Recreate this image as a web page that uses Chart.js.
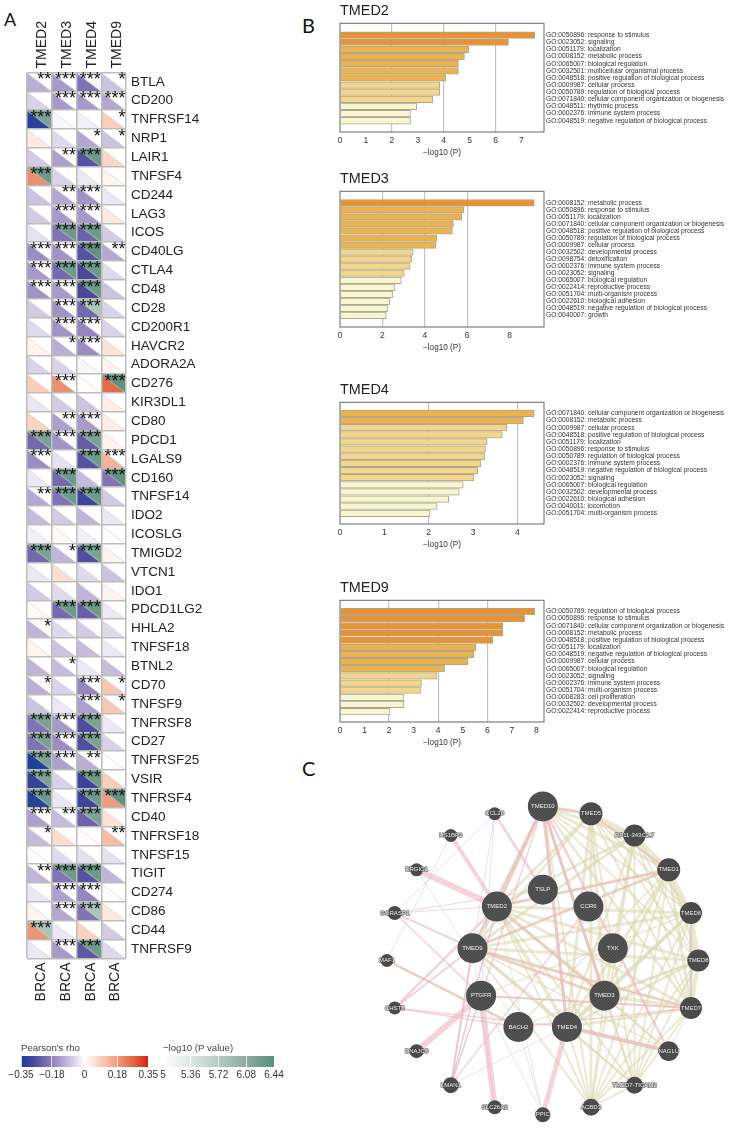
<!DOCTYPE html>
<html>
<head>
<meta charset="utf-8">
<title>TMED immune checkpoint, GO enrichment and network</title>
<script src="https://cdn.jsdelivr.net/npm/chart.js@4"></script>
<style>
  body { margin: 0; background: #fff; width: 734px; height: 1139px; position: relative; overflow: hidden; }
  canvas { position: absolute; }
  .letter { position: absolute; font-family: Lato, sans-serif; font-size: 20px; color: #111; line-height: 1; }
</style>
</head>
<body>
<div class="letter" style="left:4px;top:10px;font-size:18px">A</div>
<div class="letter" style="left:302px;top:15px">B</div>
<div class="letter" style="left:302px;top:758px">C</div>
<canvas id="heat" width="300" height="1010" style="left:0;top:0"></canvas>
<canvas id="rhoBar" width="160" height="45" style="left:0;top:1040px"></canvas>
<canvas id="pBar" width="140" height="45" style="left:155px;top:1040px"></canvas>
<canvas id="go2" width="404" height="156" style="left:330px;top:2px"></canvas>
<canvas id="go3" width="404" height="183" style="left:330px;top:170px"></canvas>
<canvas id="go4" width="404" height="169" style="left:330px;top:381px"></canvas>
<canvas id="go9" width="404" height="169" style="left:330px;top:579px"></canvas>
<canvas id="net" width="404" height="369" style="left:330px;top:770px"></canvas>
<script>
const FONT = '"Liberation Sans", Arial, sans-serif';

// Panel A
const tmedCols = ['TMED2', 'TMED3', 'TMED4', 'TMED9'];
const cancerCols = ['BRCA', 'BRCA', 'BRCA', 'BRCA'];
const genes = ['BTLA', 'CD200', 'TNFRSF14', 'NRP1', 'LAIR1', 'TNFSF4', 'CD244', 'LAG3', 'ICOS', 'CD40LG', 'CTLA4', 'CD48',
  'CD28', 'CD200R1', 'HAVCR2', 'ADORA2A', 'CD276', 'KIR3DL1', 'CD80', 'PDCD1', 'LGALS9', 'CD160', 'TNFSF14', 'IDO2',
  'ICOSLG', 'TMIGD2', 'VTCN1', 'IDO1', 'PDCD1LG2', 'HHLA2', 'TNFSF18', 'BTNL2', 'CD70', 'TNFSF9', 'TNFRSF8', 'CD27',
  'TNFRSF25', 'VSIR', 'TNFRSF4', 'CD40', 'TNFRSF18', 'TNFSF15', 'TIGIT', 'CD274', 'CD86', 'CD44', 'TNFRSF9'];

const rhoTMED2 = [-.11, -.06, -.33, .04, -.07, .2, -.08, -.07, -.04, -.16, -.14, -.15, -.07, -.05, .02, -.06, .09, -.03, .08, -.22, -.16, -.03, -.12, -.09,
  -.02, -.22, -.03, -.07, .01, -.1, .02, -.1, -.11, -.08, -.2, -.2, -.34, -.31, -.33, -.13, -.09, -.005, -.1, -.03, .02, .19, -.03];
const rhoTMED3 = [-.14, -.14, -.01, -.05, -.13, -.06, -.12, -.14, -.2, -.15, -.22, -.14, -.15, -.15, -.11, -.06, .2, -.07, -.13, -.15, -.04, -.22, -.2, -.07,
  .01, -.1, .06, -.05, -.22, -.05, -.08, -.09, -.06, -.03, -.14, -.16, -.13, -.06, -.03, -.09, .06, -.05, -.2, -.13, -.12, -.03, -.14];
const rhoTMED4 = [-.2, -.14, -.02, -.12, -.26, -.03, -.15, -.14, -.23, -.26, -.28, -.28, -.22, -.17, -.16, -.01, .005, -.08, -.14, -.24, -.26, -.09, -.3, -.1,
  -.02, -.27, -.05, -.1, -.24, -.07, -.09, -.03, -.17, -.13, -.27, -.27, -.11, -.3, -.3, -.23, .005, -.04, -.26, -.17, -.2, .08, -.25];
const rhoTMED9 = [-.08, -.12, .09, -.08, .07, .02, -.03, .04, -.07, -.12, -.05, -.08, -.06, -.06, .05, .02, .26, .03, .03, .02, .14, -.2, -.07, -.03,
  -.005, .02, -.08, .02, -.03, -.05, -.03, -.09, .1, .1, -.03, -.06, -.005, .09, .18, .05, .12, -.04, -.1, -.005, .04, -.07, -.05];

// -log10 P, 0 where the cell stays blank
const logpTMED2 = [0, 0, 6.2, 0, 0, 6.3, 0, 0, 0, 0, 0, 0, 0, 0, 0, 0, 0, 0, 0, 6.2, 0, 0, 0, 0,
  0, 6.2, 0, 0, 0, 0, 0, 0, 0, 0, 6.2, 6.2, 6.2, 6.2, 6.3, 0, 0, 0, 0, 0, 0, 5.8, 0];
const logpTMED3 = [0, 0, 0, 0, 0, 0, 0, 0, 6.3, 0, 6.3, 0, 0, 0, 0, 0, 0, 0, 0, 0, 0, 6.3, 6.3, 0,
  0, 0, 0, 0, 6.3, 0, 0, 0, 0, 0, 0, 0, 0, 0, 0, 0, 0, 0, 6.3, 0, 0, 0, 0];
const logpTMED4 = [5.1, 0, 0, 0, 6.3, 0, 0, 0, 6.3, 6.4, 6.3, 6.3, 5.8, 0, 0, 0, 0, 0, 0, 6.2, 6.3, 0, 6.3, 0,
  0, 6.2, 0, 0, 6.3, 0, 0, 0, 0, 0, 6.2, 6.2, 0, 6.3, 6.3, 6.2, 0, 0, 6.3, 0, 5.8, 0, 6.3];
const logpTMED9 = [0, 0, 0, 0, 0, 0, 0, 0, 0, 0, 0, 0, 0, 0, 0, 0, 6.4, 0, 0, 0, 0, 6.4, 0, 0,
  0, 0, 0, 0, 0, 0, 0, 0, 0, 0, 0, 0, 0, 0, 6.4, 0, 0, 0, 0, 0, 0, 0, 0];

const starsTMED2 = [2, 0, 3, 0, 0, 3, 0, 0, 0, 3, 3, 3, 0, 0, 0, 0, 0, 0, 0, 3, 3, 0, 2, 0,
  0, 3, 0, 0, 0, 1, 0, 0, 1, 0, 3, 3, 3, 3, 3, 3, 1, 0, 2, 0, 0, 3, 0];
const starsTMED3 = [3, 3, 0, 0, 2, 0, 2, 3, 3, 3, 3, 3, 3, 3, 1, 0, 3, 0, 2, 3, 0, 3, 3, 0,
  0, 1, 0, 0, 3, 0, 0, 1, 0, 0, 3, 3, 3, 0, 0, 2, 0, 0, 3, 3, 3, 0, 3];
const starsTMED4 = [3, 3, 0, 1, 3, 0, 3, 3, 3, 3, 3, 3, 3, 3, 3, 0, 0, 0, 3, 3, 3, 0, 3, 0,
  0, 3, 0, 0, 3, 0, 0, 0, 3, 3, 3, 3, 2, 3, 3, 3, 0, 0, 3, 3, 3, 0, 3];
const starsTMED9 = [1, 3, 1, 1, 0, 0, 0, 0, 0, 2, 0, 0, 0, 0, 0, 0, 3, 0, 0, 0, 3, 3, 0, 0,
  0, 0, 0, 0, 0, 0, 0, 0, 1, 1, 0, 0, 0, 0, 3, 0, 2, 0, 0, 0, 0, 0, 0];

const rhoByCol = [rhoTMED2, rhoTMED3, rhoTMED4, rhoTMED9];
const logpByCol = [logpTMED2, logpTMED3, logpTMED4, logpTMED9];
const starsByCol = [starsTMED2, starsTMED3, starsTMED4, starsTMED9];

// colour bars
const rhoTicks = [-0.35, -0.18, 0, 0.18, 0.35];
const logpTicks = [5, 5.36, 5.72, 6.08, 6.44];

// Panel B
const go2Terms = ['GO:0050896: response to stimulus', 'GO:0023052: signaling', 'GO:0051179: localization', 'GO:0008152: metabolic process',
  'GO:0065007: biological regulation', 'GO:0032501: multicellular organismal process', 'GO:0048518: positive regulation of biological process',
  'GO:0009987: cellular process', 'GO:0050789: regulation of biological process', 'GO:0071840: cellular component organization or biogenesis',
  'GO:0048511: rhythmic process', 'GO:0002376: immune system process', 'GO:0048519: negative regulation of biological process'];
const go2Values = [7.52, 6.5, 4.97, 4.8, 4.57, 4.57, 4.08, 3.85, 3.85, 3.58, 2.96, 2.72, 2.72];

const go3Terms = ['GO:0008152: metabolic process', 'GO:0050896: response to stimulus', 'GO:0051179: localization',
  'GO:0071840: cellular component organization or biogenesis', 'GO:0048518: positive regulation of biological process',
  'GO:0050789: regulation of biological process', 'GO:0009987: cellular process', 'GO:0032502: developmental process', 'GO:0098754: detoxification',
  'GO:0002376: immune system process', 'GO:0023052: signaling', 'GO:0065007: biological regulation', 'GO:0022414: reproductive process',
  'GO:0051704: multi-organism process', 'GO:0022610: biological adhesion', 'GO:0048519: negative regulation of biological process', 'GO:0040007: growth'];
const go3Values = [9.16, 5.85, 5.74, 5.35, 5.3, 4.56, 4.53, 3.45, 3.39, 3.31, 3.03, 2.89, 2.6, 2.48, 2.34, 2.24, 2.18];

const go4Terms = ['GO:0071840: cellular component organization or biogenesis', 'GO:0008152: metabolic process', 'GO:0009987: cellular process',
  'GO:0048518: positive regulation of biological process', 'GO:0051179: localization', 'GO:0050896: response to stimulus',
  'GO:0050789: regulation of biological process', 'GO:0002376: immune system process', 'GO:0048519: negative regulation of biological process',
  'GO:0023052: signaling', 'GO:0065007: biological regulation', 'GO:0032502: developmental process', 'GO:0022610: biological adhesion',
  'GO:0040011: locomotion', 'GO:0051704: multi-organism process'];
const go4Values = [4.38, 4.135, 3.76, 3.66, 3.32, 3.28, 3.26, 3.18, 3.11, 3.02, 2.78, 2.69, 2.45, 2.19, 2.03];

const go9Terms = ['GO:0050789: regulation of biological process', 'GO:0050896: response to stimulus', 'GO:0071840: cellular component organization or biogenesis',
  'GO:0008152: metabolic process', 'GO:0048518: positive regulation of biological process', 'GO:0051179: localization',
  'GO:0048519: negative regulation of biological process', 'GO:0009987: cellular process', 'GO:0065007: biological regulation', 'GO:0023052: signaling',
  'GO:0002376: immune system process', 'GO:0051704: multi-organism process', 'GO:0008283: cell proliferation', 'GO:0032502: developmental process',
  'GO:0022414: reproductive process'];
const go9Values = [7.93, 7.52, 6.63, 6.63, 6.23, 5.54, 5.46, 5.21, 4.26, 3.95, 3.32, 3.28, 2.61, 2.59, 2.04];

// Panel C
const nodeNames = ['TMED10', 'TMED5', 'RP11-343C2.7', 'TMED1', 'TMED6', 'TMED8', 'TMED7', 'NAGLU', 'TMED7-TICAM2', 'ACBD3', 'PPIC', 'SLC26A2', 'LMAN1',
  'DNAJC5', 'CHST8', 'MAF1', 'GORASP1', 'ERGIC1', 'HS1BP3', 'CCL20', 'TMED2', 'TMED9', 'PTGFR', 'BACH2', 'TMED4', 'TMED3', 'TXK', 'CCR6', 'TSLP'];
const nodeX = [543.7, 595.7, 642.7, 679.7, 703.7, 711.7, 703.7, 679.7, 642.7, 595.7, 543.7, 491.7, 444.3, 407.3, 383.7, 375.3, 383.7, 407.3, 444.3, 491.7,
  494, 467.7, 477, 517.3, 569.7, 610.3, 619.3, 593, 543.7];
const nodeY = [793.3, 801.3, 825, 862.3, 909.3, 961, 1012.7, 1059.7, 1096.7, 1120.7, 1129, 1120.7, 1096.7, 1059.7, 1012.7, 961, 909.3, 862.3, 825, 801.3,
  902.3, 947.7, 999.3, 1033.3, 1033.3, 999.3, 947.7, 902.3, 884];
const nodeScore = [15, 11.5, 11, 11.5, 11, 11, 11, 10, 8.5, 8.5, 7.5, 7, 8, 7, 6.5, 6.5, 7, 6.5, 6.5, 6.5, 15, 15, 15, 15, 15, 15, 15, 15, 15];

// [from, to, weight]
const oliveEdges = [[0,1,4],[1,2,4],[2,3,4],[3,4,4],[4,5,4],[5,6,4],[3,5,3],[4,6,3.5],[1,3,3],[2,4,3],[6,8,2],[6,9,2],[8,9,2],
  [0,2,3],[0,3,3],[0,4,2],[0,5,2],[0,6,2.5],[0,8,2],[0,9,2],[0,20,4],[0,21,3.5],[0,24,3],[0,25,3],
  [1,4,2],[1,5,2],[1,6,2],[1,8,2],[1,9,3],[1,20,3],[1,21,2.5],[1,24,3],[1,25,3],
  [2,5,2],[2,6,2],[2,8,2],[2,9,2],[2,20,3],[2,21,3],[2,24,2.5],[2,25,3],
  [3,6,3],[3,8,2],[3,9,2],[3,20,3],[3,21,3],[3,24,3],[3,25,3],
  [4,8,2],[4,9,2],[4,20,3],[4,21,3],[4,24,3],[4,25,3],
  [5,8,2],[5,9,2],[5,20,3],[5,21,3],[5,24,3],[5,25,3],
  [6,20,3],[6,21,3.5],[6,24,3],[6,25,3.5],[7,25,2],[7,24,4],[7,20,1.5],[7,21,1.5],
  [8,20,2],[8,21,2],[8,24,2],[8,25,2],[9,20,2],[9,21,2],[9,24,2],[9,25,2],
  [20,21,3.5],[20,24,4],[20,25,4],[21,24,3.5],[21,25,3.5],[24,25,4],[15,23,3],[23,3,1.5],[23,5,1.5],[22,4,1.5],[22,6,1.5],[10,20,1]];
const pinkEdges = [[18,20,4],[17,20,6],[13,22,6],[11,22,6],[10,24,5],[7,24,4],[19,28,2.5],[16,21,2],[16,20,1],[16,22,1.5],[14,20,2.5],[14,21,2],[14,23,1.5],
  [14,24,1.5],[12,21,2],[12,20,1.5],[12,22,1.5],[15,23,1.5],[12,27,1.5],[0,20,2],[0,21,1.5],[0,24,3],[0,25,3],[0,22,1.5],[0,7,2.5],[3,20,2],[3,21,1.5],
  [6,22,2],[6,21,1.5],[0,1,2],[1,3,1.5],[21,25,1.5],[20,25,1.5],[16,28,1],[23,6,1.5]];
const lavenderEdges = [[15,18,.8],[17,23,.8],[19,12,.8],[19,22,.8],[12,21,.8],[12,22,.8],[12,20,.8],[23,10,.8],[10,22,.8],[7,6,.8],[16,19,.8],[4,6,.8],[12,24,.8],[11,21,.8]];

// colour ramps
const rhoStops = [[-.35, '#17409a'], [-.28, '#4a479c'], [-.18, '#8f7fbb'], [-.09, '#c6bbdc'], [0, '#ffffff'], [.09, '#f9cdb9'], [.18, '#ef9a7d'], [.27, '#e4633f'], [.35, '#d9201c']];
const logpStops = [[5, '#ffffff'], [5.36, '#dce7e2'], [5.72, '#b5cbc1'], [6.08, '#8bab9e'], [6.44, '#5c8f7c']];

function hexRgb(h) {
  return [1, 3, 5].map(i => parseInt(h.substr(i, 2), 16));
}

function rampColor(stops, v) {
  if (v <= stops[0][0]) return stops[0][1];
  for (let i = 1; i < stops.length; i++) {
    if (v <= stops[i][0]) {
      const a = hexRgb(stops[i - 1][1]);
      const b = hexRgb(stops[i][1]);
      const t = (v - stops[i - 1][0]) / (stops[i][0] - stops[i - 1][0]);
      return 'rgb(' + a.map((c, k) => Math.round(c + (b[k] - c) * t)).join(',') + ')';
    }
  }
  return stops[stops.length - 1][1];
}

const triCache = {};
function triangle(color, lower) {
  const key = color + lower;
  if (triCache[key]) return triCache[key];
  const c = document.createElement('canvas');
  c.width = 25;
  c.height = 19;
  const g = c.getContext('2d');
  g.fillStyle = color;
  g.beginPath();
  g.moveTo(0, 0);
  if (lower) g.lineTo(0, 19); else g.lineTo(25, 0);
  g.lineTo(25, 19);
  g.closePath();
  g.fill();
  if (lower) {
    g.strokeStyle = '#c9c9c9';
    g.lineWidth = 1;
    g.beginPath();
    g.moveTo(0, 0);
    g.lineTo(25, 19);
    g.stroke();
  }
  triCache[key] = c;
  return c;
}

function cellData(byCol) {
  const out = [];
  tmedCols.forEach((col, c) => genes.forEach((g, r) => out.push({ x: col, y: g, v: byCol[c][r] })));
  return out;
}

const starPlugin = {
  id: 'stars',
  afterDraw(chart) {
    const { x, y } = chart.scales;
    const ctx = chart.ctx;
    const cellW = x.width / tmedCols.length;
    const cellH = y.height / genes.length;
    ctx.save();
    ctx.font = '18px ' + FONT;
    ctx.fillStyle = '#111';
    ctx.textAlign = 'right';
    ctx.textBaseline = 'alphabetic';
    starsByCol.forEach((col, c) => col.forEach((n, r) => {
      if (!n) return;
      ctx.fillText('*'.repeat(n), x.getPixelForValue(c) + cellW / 2 - 0.5, y.getPixelForValue(r) - cellH / 2 + 12.8);
    }));
    ctx.restore();
  }
};

new Chart(document.getElementById('heat'), {
  type: 'scatter',
  data: {
    datasets: [
      {
        data: cellData(logpByCol), clip: false, pointRadius: 6,
        pointStyle: c => triangle(rampColor(logpStops, c.raw ? c.raw.v : 0), false)
      },
      {
        data: cellData(rhoByCol), clip: false, pointRadius: 6,
        pointStyle: c => triangle(rampColor(rhoStops, c.raw ? c.raw.v : 0), true)
      }
    ]
  },
  options: {
    responsive: false, animation: false, events: [],
    layout: { padding: { left: 27 } },
    plugins: { legend: { display: false }, tooltip: { enabled: false } },
    scales: {
      x: {
        type: 'category', position: 'top', labels: tmedCols, offset: true,
        afterFit: s => { s.height = 72.5; },
        grid: { offset: true, z: 1, color: '#bdbdbd', lineWidth: 1.5, drawTicks: false },
        border: { display: false },
        ticks: { minRotation: 90, maxRotation: 90, autoSkip: false, padding: 4, labelOffset: 20, color: '#222', font: { family: FONT, size: 14 } }
      },
      x2: {
        type: 'category', position: 'bottom', labels: cancerCols, offset: true,
        afterFit: s => { s.height = 51.5; },
        grid: { display: false, drawTicks: false },
        border: { display: false },
        ticks: { minRotation: 90, maxRotation: 90, autoSkip: false, padding: 4, labelOffset: 2, color: '#222', font: { family: FONT, size: 14 } }
      },
      y: {
        type: 'category', position: 'right', labels: genes, offset: true,
        afterFit: s => { s.width = 174; },
        grid: { offset: true, z: 1, color: '#bdbdbd', lineWidth: 1.5, drawTicks: false },
        border: { display: false },
        ticks: { autoSkip: false, padding: 5, color: '#222', font: { family: FONT, size: 13.5 } }
      }
    }
  },
  plugins: [starPlugin]
});

function colourBar(id, title, ticks, stops, pad) {
  new Chart(document.getElementById(id), {
    type: 'bar',
    data: {
      labels: [''],
      datasets: [{
        data: [[ticks[0], ticks[ticks.length - 1]]],
        barPercentage: 1, categoryPercentage: 1,
        backgroundColor: c => {
          const a = c.chart.chartArea;
          if (!a) return '#ccc';
          const x = c.chart.scales.x;
          const g = c.chart.ctx.createLinearGradient(a.left, 0, a.right, 0);
          stops.forEach(s => g.addColorStop((x.getPixelForValue(s[0]) - a.left) / a.width, s[1]));
          return g;
        }
      }]
    },
    options: {
      indexAxis: 'y', responsive: false, animation: false, events: [],
      layout: { padding: { left: pad[0], right: pad[1], top: 3 } },
      plugins: {
        legend: { display: false }, tooltip: { enabled: false },
        title: { display: true, text: title, align: 'start', color: '#444', padding: { top: 0, bottom: 1.5 }, font: { family: FONT, size: 9.6, weight: 'normal' } }
      },
      scales: {
        y: { display: false },
        x: {
          type: 'linear', min: ticks[0], max: ticks[ticks.length - 1],
          afterFit: s => { s.height = 18; },
          afterBuildTicks: s => { s.ticks = ticks.map(v => ({ value: v })); },
          grid: { z: 1, color: 'rgba(255,255,255,.75)', lineWidth: 1, drawTicks: false },
          border: { display: false },
          ticks: { padding: 2, color: '#333', autoSkip: false, maxRotation: 0, font: { family: FONT, size: 10 }, callback: v => String(v).replace('-', '\u2212') }
        }
      }
    }
  });
}
colourBar('rhoBar', "Pearson's rho", rhoTicks, rhoStops, [21, 9.5]);
colourBar('pBar', '\u2212log10 (P value)', logpTicks, logpStops, [8, 21]);

function goColor(v) {
  if (v >= 6) return '#e9922f';
  if (v >= 4) return '#ecb34d';
  if (v >= 3) return '#f3d689';
  return '#f8f6cf';
}

const framePlugin = {
  id: 'frame',
  afterDraw(chart) {
    const a = chart.chartArea;
    const ctx = chart.ctx;
    ctx.save();
    ctx.strokeStyle = '#666';
    ctx.lineWidth = 1;
    ctx.strokeRect(a.left, a.top, a.width, a.height);
    ctx.restore();
  }
};

function goChart(id, title, terms, values, xMax, step, yMin, yMax) {
  new Chart(document.getElementById(id), {
    type: 'bar',
    data: {
      datasets: [{
        data: values.map((v, i) => ({ x: v, y: i })),
        barThickness: 6.6,
        backgroundColor: values.map(goColor),
        borderColor: '#aca696',
        borderWidth: 1
      }]
    },
    options: {
      indexAxis: 'y', responsive: false, animation: false, events: [],
      layout: { padding: { left: 10 } },
      plugins: {
        legend: { display: false }, tooltip: { enabled: false },
        title: { display: true, text: title, align: 'start', color: '#222', padding: { top: 0, bottom: 4 }, font: { family: FONT, size: 14.4, weight: 'normal' } }
      },
      scales: {
        x: {
          type: 'linear', min: 0, max: xMax,
          afterFit: s => { s.height = 26; },
          grid: { drawTicks: false, lineWidth: 1.2, color: c => ([2, 4, 6].includes(c.tick.value) ? '#c2c2c2' : 'transparent') },
          border: { display: false },
          ticks: { stepSize: step, includeBounds: false, padding: 4, maxRotation: 0, color: '#333', font: { family: FONT, size: 8.5 } },
          title: { display: true, text: '\u2212log10 (P)', color: '#333', padding: { top: 3, bottom: 0 }, font: { family: FONT, size: 8.2 } }
        },
        y: {
          type: 'linear', position: 'right', reverse: true, min: yMin, max: yMax,
          afterFit: s => { s.width = 190; },
          afterBuildTicks: s => { s.ticks = terms.map((t, i) => ({ value: i })); },
          grid: { display: false, drawTicks: false },
          border: { display: false },
          ticks: { autoSkip: false, padding: 2, color: '#333', font: { family: FONT, size: 6.7 }, callback: v => terms[v] }
        }
      }
    },
    plugins: [framePlugin]
  });
}
goChart('go2', 'TMED2', go2Terms, go2Values, 7.87, 1, -1.07, 12.99);
goChart('go3', 'TMED3', go3Terms, go3Values, 9.62, 2, -1.07, 17.07);
goChart('go4', 'TMED4', go4Terms, go4Values, 4.6, 1, -0.99, 14.92);
goChart('go9', 'TMED9', go9Terms, go9Values, 8.31, 1, -1.0, 14.88);

// network
function hatch() {
  const c = document.createElement('canvas');
  c.width = 3;
  c.height = 3;
  const g = c.getContext('2d');
  g.fillStyle = '#4a4a4a';
  g.fillRect(0, 0, 3, 3);
  g.strokeStyle = '#5e5e5e';
  g.lineWidth = 0.7;
  g.beginPath();
  g.moveTo(-1, 1); g.lineTo(1, -1);
  g.moveTo(0, 3); g.lineTo(3, 0);
  g.moveTo(2, 4); g.lineTo(4, 2);
  g.stroke();
  return g.createPattern(c, 'repeat');
}
const hatchFill = hatch();

function edgeSets(list, color) {
  return list.map(e => ({
    type: 'scatter', showLine: true, pointRadius: 0, borderColor: color, borderWidth: e[2], clip: false,
    data: [{ x: nodeX[e[0]], y: nodeY[e[0]] }, { x: nodeX[e[1]], y: nodeY[e[1]] }]
  }));
}

const nodeLabelPlugin = {
  id: 'nodeLabels',
  afterDatasetsDraw(chart) {
    const meta = chart.getDatasetMeta(0);
    const ctx = chart.ctx;
    ctx.save();
    ctx.font = '6px ' + FONT;
    ctx.textAlign = 'center';
    ctx.textBaseline = 'middle';
    ctx.lineJoin = 'round';
    meta.data.forEach((p, i) => {
      if (nodeScore[i] < 12) {
        ctx.strokeStyle = 'rgba(70,70,70,.7)';
        ctx.lineWidth = 1.6;
        ctx.strokeText(nodeNames[i], p.x, p.y);
      }
      ctx.fillStyle = '#eeeeee';
      ctx.fillText(nodeNames[i], p.x, p.y);
    });
    ctx.restore();
  }
};

new Chart(document.getElementById('net'), {
  data: {
    datasets: [
      {
        type: 'bubble',
        data: nodeX.map((x, i) => ({ x, y: nodeY[i], r: nodeScore[i] })),
        backgroundColor: nodeScore.map(s => (s >= 15 ? hatchFill : '#4b4b4b')),
        borderWidth: 0, clip: false
      },
      ...edgeSets(pinkEdges, 'rgba(236,180,192,.58)'),
      ...edgeSets(lavenderEdges, 'rgba(198,188,222,.55)'),
      ...edgeSets(oliveEdges, 'rgba(220,216,180,.58)')
    ]
  },
  options: {
    responsive: false, animation: false, events: [],
    layout: { padding: 0 },
    plugins: { legend: { display: false }, tooltip: { enabled: false } },
    scales: {
      x: { type: 'linear', display: false, min: 330, max: 734 },
      y: { type: 'linear', display: false, min: 770, max: 1139, reverse: true }
    }
  },
  plugins: [nodeLabelPlugin]
});
</script>
</body>
</html>
